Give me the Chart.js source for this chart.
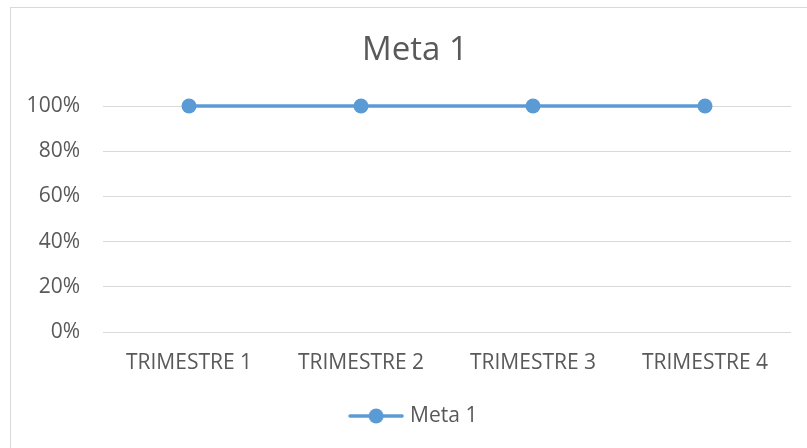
<!DOCTYPE html>
<html>
<head>
<meta charset="utf-8">
<script src="https://cdn.jsdelivr.net/npm/chart.js@4/dist/chart.umd.min.js"></script>
<style>
  html, body { margin: 0; padding: 0; background: #fff; overflow: hidden; width: 807px; height: 448px; }
  #wrap { position: absolute; left: 10px; top: 7px; width: 810px; height: 445px; border: 1px solid #d9d9d9; background: #fff; }
  canvas { display: block; }
</style>
</head>
<body>
<div id="wrap"><canvas id="c" width="810" height="445"></canvas></div>
<script>
const categories = ['TRIMESTRE 1', 'TRIMESTRE 2', 'TRIMESTRE 3', 'TRIMESTRE 4'];
const seriesName = 'Meta 1';
const seriesValues = [1, 1, 1, 1];
const yTicks = [0, 0.2, 0.4, 0.6, 0.8, 1];
const chartTitle = 'Meta 1';

const lineColor = '#5b9bd5';
const textColor = '#595959';
const FONT = "'Open Sans', sans-serif";

// legend symbol: line with a circle marker
const sym = document.createElement('canvas');
sym.width = 56; sym.height = 16;
(function () {
  const g = sym.getContext('2d');
  g.strokeStyle = lineColor; g.lineWidth = 3.5; g.lineCap = 'round';
  g.beginPath(); g.moveTo(2, 8); g.lineTo(54, 8); g.stroke();
  g.fillStyle = lineColor;
  g.beginPath(); g.arc(28, 8, 7.5, 0, Math.PI * 2); g.fill();
})();

new Chart(document.getElementById('c'), {
  type: 'line',
  data: {
    labels: categories,
    datasets: [{
      label: seriesName,
      data: seriesValues,
      borderColor: lineColor,
      backgroundColor: lineColor,
      borderWidth: 3.5,
      tension: 0,
      pointRadius: 7.5,
      pointHoverRadius: 7.5,
      pointBorderWidth: 0,
      pointBackgroundColor: lineColor,
      clip: false,
      yAxisID: 'y'
    }]
  },
  options: {
    responsive: false,
    animation: false,
    layout: { padding: { left: 0, right: 2, top: 0, bottom: 16.5 } },
    plugins: {
      title: {
        display: true,
        text: chartTitle,
        color: textColor,
        font: { family: FONT, size: 33, weight: 'normal' },
        padding: { top: 23, bottom: 35.4 }
      },
      legend: {
        display: true,
        position: 'bottom',
        labels: {
          color: textColor,
          font: { family: FONT, size: 21 },
          usePointStyle: true,
          pointStyleWidth: 47,
          generateLabels: (chart) => [{
            text: seriesName,
            pointStyle: sym,
            fillStyle: lineColor,
            strokeStyle: lineColor,
            lineWidth: 0,
            datasetIndex: 0,
            fontColor: textColor
          }]
        }
      },
      tooltip: { enabled: false }
    },
    scales: {
      x: {
        offset: true,
        grid: { display: false, drawTicks: false },
        border: { display: false },
        ticks: { color: textColor, font: { family: FONT, size: 21 }, padding: 18, maxRotation: 0 },
        afterFit: (s) => { s.height = 63.5; }
      },
      y: {
        min: 0,
        max: 1,
        afterBuildTicks: (s) => { s.ticks = yTicks.map(v => ({ value: v })); },
        grid: { color: '#d9d9d9', lineWidth: 1, drawTicks: false },
        border: { display: false },
        ticks: {
          color: textColor,
          font: { family: FONT, size: 21 },
          padding: 23,
          callback: (v) => Math.round(v * 100) + '%'
        },
        afterFit: (s) => { s.width = 92; }
      },
      spacer: {
        position: 'right',
        display: true,
        min: 0,
        max: 1,
        grid: { display: false, drawTicks: false },
        border: { display: false },
        ticks: { display: false },
        afterFit: (s) => { s.width = 28; }
      }
    }
  }
});
</script>
</body>
</html>
